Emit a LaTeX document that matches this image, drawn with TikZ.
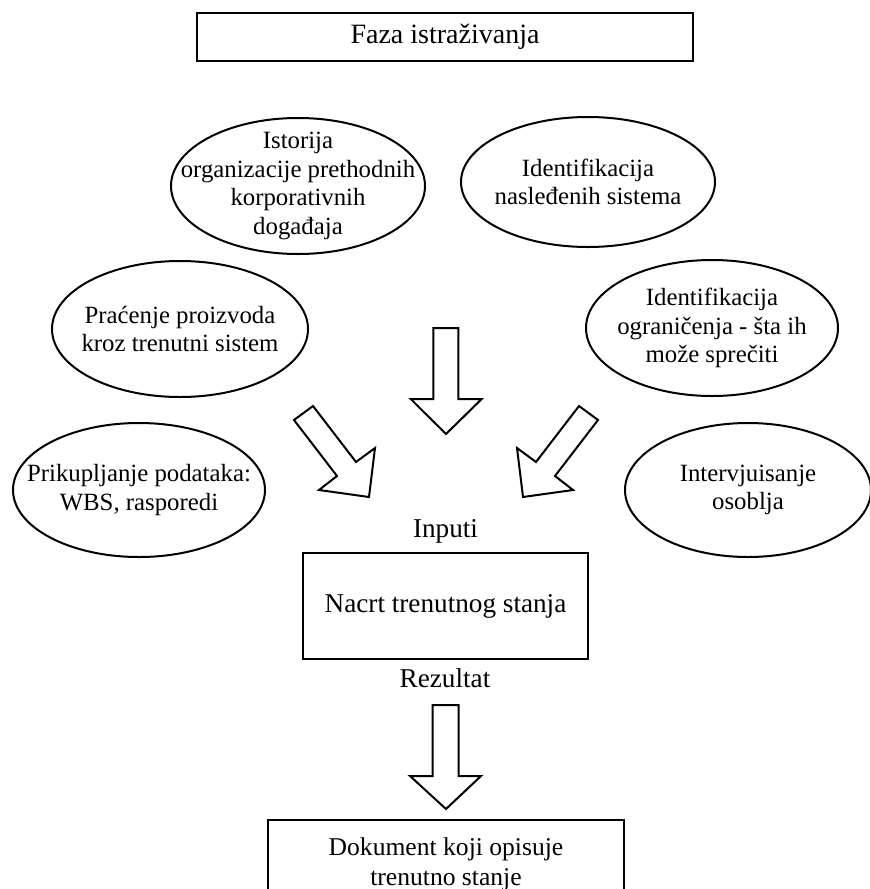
\documentclass[tikz,border=0pt]{standalone}
\usepackage{fontspec}
\setmainfont{Liberation Serif}
\usepackage{tikz}
\usetikzlibrary{shapes.geometric, positioning}

\tikzset{
  oval/.style = {line width=1pt},
  tekst/.style = {align=center, inner sep=0pt, font=\fontsize{12.4}{14.2}\selectfont},
  kutija/.style = {draw, rectangle, line width=1pt, inner sep=0pt, align=center},
  strelica/.style = {draw, line width=1pt, line join=miter, fill=white}
}

\begin{document}
\begin{tikzpicture}[x=0.5pt, y=-0.5pt, font=\fontsize{13.6}{15}\selectfont]
			\clip (0,0) rectangle (870,889);
			\fill[white] (0,0) rectangle (870,889);
			
			\node[kutija, minimum width=248pt, minimum height=24pt, font=\fontsize{14}{15}\selectfont] (faza) at (445,37) {Faza istraživanja};
			
			\node[tekst] (istorija) at (298,186) {Istorija\\organizacije prethodnih\\korporativnih\\događaja};
			\node[tekst] (nasledjeni) at (588,182) {Identifikacija\\nasleđenih sistema};
			\node[tekst] (pracenje) at (180,329) {Praćenje proizvoda\\kroz trenutni sistem};
			\node[tekst] (ogranicenja) at (712,328) {Identifikacija\\ograničenja - šta ih\\može sprečiti};
			\node[tekst] (prikupljanje) at (139,490) {Prikupljanje podataka:\\WBS, rasporedi};
			\node[tekst] (intervju) at (748,490) {Intervjuisanje\\osoblja};
			
			\draw[oval] (istorija.center) ellipse [x radius=63.5pt, y radius=34pt];
			\draw[oval] (nasledjeni.center) ellipse [x radius=63.5pt, y radius=32.5pt];
			\draw[oval] (pracenje.center) ellipse [x radius=64pt, y radius=34pt];
			\draw[oval] (ogranicenja.center) ellipse [x radius=63pt, y radius=34pt];
			\draw[oval] (prikupljanje.center) ellipse [x radius=63pt, y radius=33.5pt];
			\draw[oval] (intervju.center) ellipse [x radius=61.5pt, y radius=33.5pt];
			
			% strelice prema nacrtu
			\draw[strelica] (433.3,328) -- (458.3,328) -- (458.3,399) -- (481.7,399) -- (446,434) -- (410.7,399) -- (433.3,399) -- cycle;
			\draw[strelica] (294,420) -- (313,406) -- (356,462) -- (375,448) -- (369,497) -- (319,490) -- (337,476) -- cycle;
			\draw[strelica] (598,420) -- (579,406) -- (536,462) -- (517,448) -- (523,497) -- (573,490) -- (555,476) -- cycle;
			
			\node[anchor=base] (inputi) at (445.5,537) {Inputi};
			\node[kutija, minimum width=142.5pt, minimum height=53pt] (nacrt) at (445.5,606) {Nacrt trenutnog stanja};
			\node[anchor=base] (rezultat) at (445,687) {Rezultat};
			
			\draw[strelica] (432.7,705) -- (458.7,705) -- (458.7,776) -- (481,776) -- (446,809) -- (410,776) -- (432.7,776) -- cycle;
			
			\draw[line width=1pt] (268,820) rectangle (624,905);
			\node[tekst, font=\fontsize{12.8}{15}\selectfont] (dokument) at (446,864) {Dokument koji opisuje\\trenutno stanje};
\end{tikzpicture}
\end{document}
